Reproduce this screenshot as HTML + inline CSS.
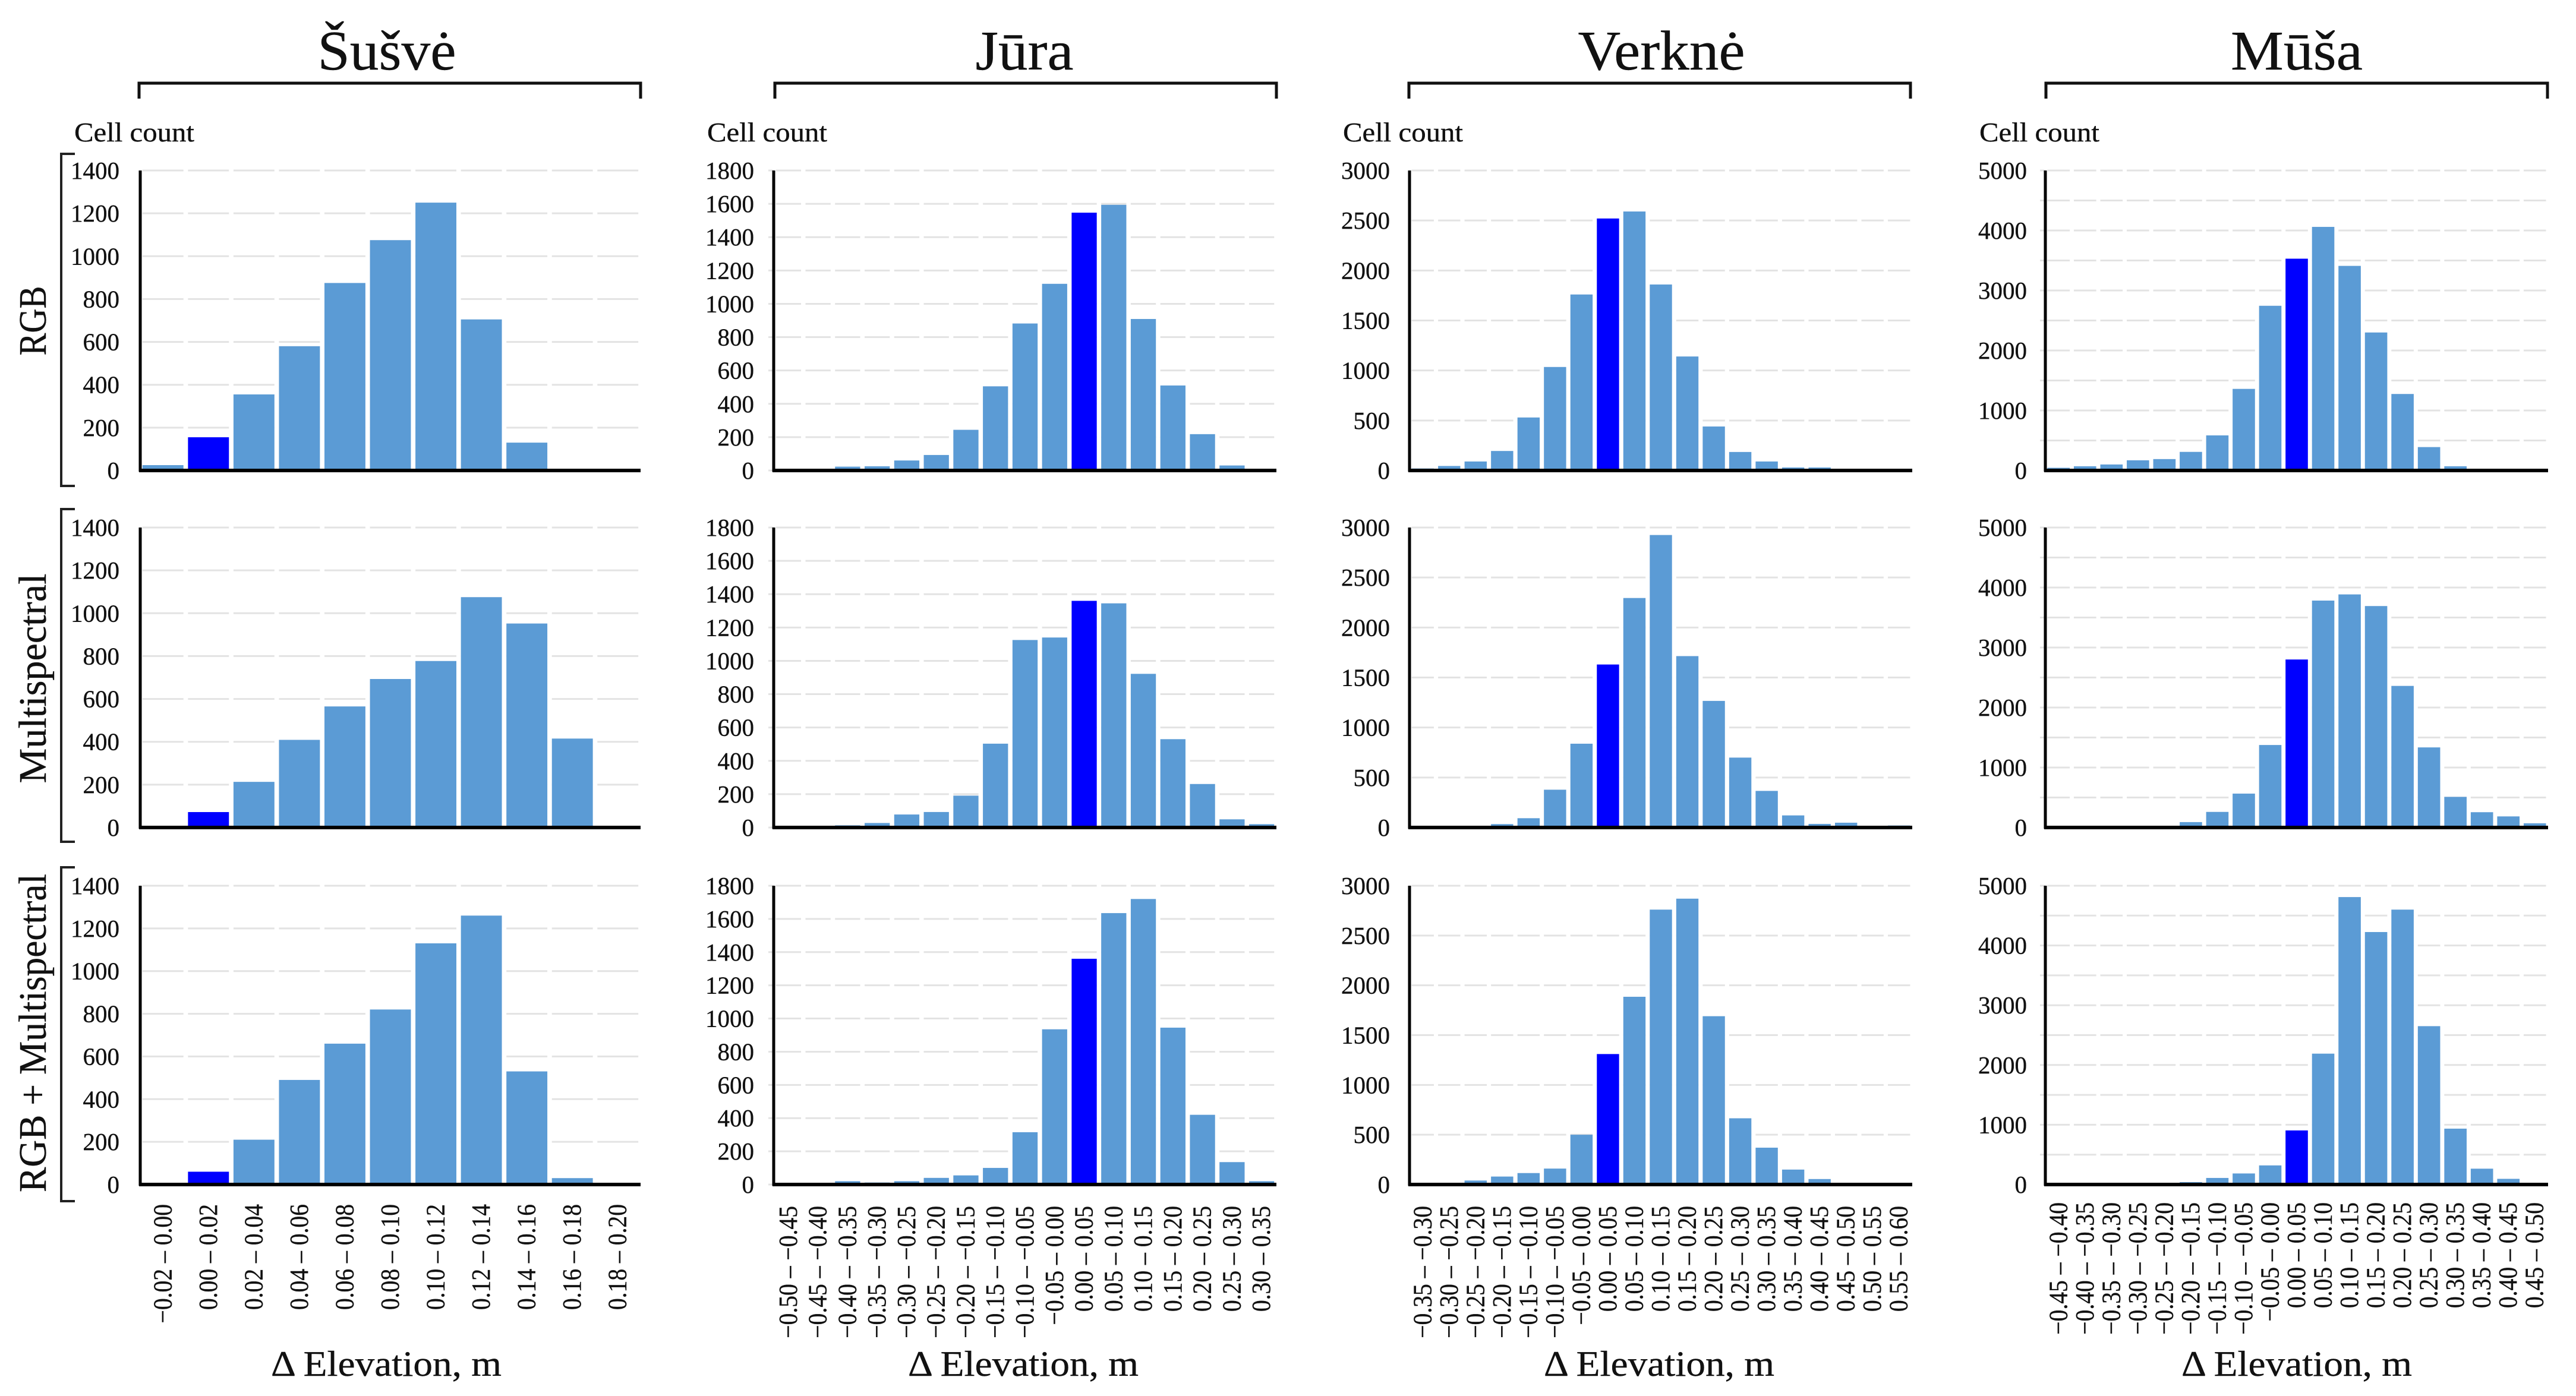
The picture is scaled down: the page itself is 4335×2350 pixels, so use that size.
<!DOCTYPE html>
<html lang="lt">
<head>
<meta charset="utf-8">
<title>Elevation difference histograms</title>
<style>
html,body{margin:0;padding:0;background:#fff;width:4335px;height:2350px;overflow:hidden}
svg{display:block}
text{font-family:"Liberation Serif","DejaVu Serif",serif;fill:#111;stroke:#111;stroke-width:0.4}
</style>
</head>
<body>
<svg id="chart" xmlns="http://www.w3.org/2000/svg" width="4335" height="2350" viewBox="0 0 4335 2350">
  <rect x="0" y="0" width="4335" height="2350" fill="#ffffff"/>

  <text x="651" y="117" font-size="94" text-anchor="middle" textLength="233" lengthAdjust="spacingAndGlyphs">Šušvė</text>
  <text x="1724" y="117" font-size="94" text-anchor="middle" textLength="165" lengthAdjust="spacingAndGlyphs">Jūra</text>
  <text x="2796" y="117" font-size="94" text-anchor="middle" textLength="281" lengthAdjust="spacingAndGlyphs">Verknė</text>
  <text x="3865" y="117" font-size="94" text-anchor="middle" textLength="222" lengthAdjust="spacingAndGlyphs">Mūša</text>

  <path d="M234 166V140H1078V166" fill="none" stroke="#111" stroke-width="5"/>
  <path d="M1304 166V140H2148V166" fill="none" stroke="#111" stroke-width="5"/>
  <path d="M2371 166V140H3215V166" fill="none" stroke="#111" stroke-width="5"/>
  <path d="M3443 166V140H4287V166" fill="none" stroke="#111" stroke-width="5"/>

  <text x="125" y="238" font-size="46" textLength="202" lengthAdjust="spacingAndGlyphs">Cell count</text>
  <text x="1190" y="238" font-size="46" textLength="202" lengthAdjust="spacingAndGlyphs">Cell count</text>
  <text x="2260" y="238" font-size="46" textLength="202" lengthAdjust="spacingAndGlyphs">Cell count</text>
  <text x="3331" y="238" font-size="46" textLength="202" lengthAdjust="spacingAndGlyphs">Cell count</text>

  <text transform="translate(77 540) rotate(-90)" font-size="66" text-anchor="middle" textLength="117" lengthAdjust="spacingAndGlyphs">RGB</text>
  <text transform="translate(77 1142) rotate(-90)" font-size="66" text-anchor="middle" textLength="353" lengthAdjust="spacingAndGlyphs">Multispectral</text>
  <text transform="translate(77 1739) rotate(-90)" font-size="66" text-anchor="middle" textLength="536" lengthAdjust="spacingAndGlyphs">RGB + Multispectral</text>

  <path d="M126 259H103V818H126" fill="none" stroke="#222" stroke-width="4"/>
  <path d="M126 857H103V1417H126" fill="none" stroke="#222" stroke-width="4"/>
  <path d="M126 1460H103V2022H126" fill="none" stroke="#222" stroke-width="4"/>

  <text x="650" y="2316" font-size="60" text-anchor="middle" textLength="388" lengthAdjust="spacingAndGlyphs">Δ Elevation, m</text>
  <text x="1722" y="2316" font-size="60" text-anchor="middle" textLength="388" lengthAdjust="spacingAndGlyphs">Δ Elevation, m</text>
  <text x="2792" y="2316" font-size="60" text-anchor="middle" textLength="388" lengthAdjust="spacingAndGlyphs">Δ Elevation, m</text>
  <text x="3865" y="2316" font-size="60" text-anchor="middle" textLength="388" lengthAdjust="spacingAndGlyphs">Δ Elevation, m</text>

  <g id="panels"></g>
</svg>

<script>
// Bin categories
const categoriesSusve = ["−0.02 – 0.00","0.00 – 0.02","0.02 – 0.04","0.04 – 0.06","0.06 – 0.08","0.08 – 0.10","0.10 – 0.12","0.12 – 0.14","0.14 – 0.16","0.16 – 0.18","0.18 – 0.20"];
const categoriesJura = ["−0.50 – −0.45","−0.45 – −0.40","−0.40 – −0.35","−0.35 – −0.30","−0.30 – −0.25","−0.25 – −0.20","−0.20 – −0.15","−0.15 – −0.10","−0.10 – −0.05","−0.05 – 0.00","0.00 – 0.05","0.05 – 0.10","0.10 – 0.15","0.15 – 0.20","0.20 – 0.25","0.25 – 0.30","0.30 – 0.35"];
const categoriesVerkne = ["−0.35 – −0.30","−0.30 – −0.25","−0.25 – −0.20","−0.20 – −0.15","−0.15 – −0.10","−0.10 – −0.05","−0.05 – 0.00","0.00 – 0.05","0.05 – 0.10","0.10 – 0.15","0.15 – 0.20","0.20 – 0.25","0.25 – 0.30","0.30 – 0.35","0.35 – 0.40","0.40 – 0.45","0.45 – 0.50","0.50 – 0.55","0.55 – 0.60"];
const categoriesMusa = ["−0.45 – −0.40","−0.40 – −0.35","−0.35 – −0.30","−0.30 – −0.25","−0.25 – −0.20","−0.20 – −0.15","−0.15 – −0.10","−0.10 – −0.05","−0.05 – 0.00","0.00 – 0.05","0.05 – 0.10","0.10 – 0.15","0.15 – 0.20","0.20 – 0.25","0.25 – 0.30","0.30 – 0.35","0.35 – 0.40","0.40 – 0.45","0.45 – 0.50"];

// Y-axis tick labels and gridline values
const ticksSusve = [0,200,400,600,800,1000,1200,1400];
const ticksJura = [0,200,400,600,800,1000,1200,1400,1600,1800];
const ticksVerkne = [0,500,1000,1500,2000,2500,3000];
const ticksMusa = [0,1000,2000,3000,4000,5000];
const gridMusa = [500,1000,1500,2000,2500,3000,3500,4000,4500,5000];

// Series values (cell counts)
const susveRgb = [25,155,355,580,875,1075,1250,705,130,0,0];
const susveMultispectral = [0,72,213,409,565,693,777,1075,952,415,0];
const susveCombined = [0,60,210,490,660,820,1130,1260,530,30,0];

const juraRgb = [0,0,23,25,60,93,244,505,882,1120,1547,1594,909,510,218,30,0];
const juraMultispectral = [0,0,13,27,78,93,191,503,1125,1140,1360,1345,922,530,261,49,20];
const juraCombined = [0,0,20,12,20,40,55,100,315,935,1360,1635,1720,945,420,135,20];

const verkneRgb = [20,45,90,195,530,1035,1760,2520,2590,1860,1140,440,185,90,30,30,15,0,0];
const verkneMultispectral = [0,0,0,34,93,378,838,1630,2295,2925,1714,1266,699,366,121,36,48,0,20];
const verkneCombined = [0,0,40,80,115,160,500,1310,1885,2760,2870,1690,665,370,150,55,0,0,0];

const musaRgb = [45,70,100,170,190,310,585,1360,2745,3530,4060,3410,2300,1275,390,70,0,0,0];
const musaMultispectral = [0,0,0,0,0,90,260,565,1375,2800,3782,3885,3691,2360,1335,510,255,185,70];
const musaCombined = [0,0,0,0,15,40,110,185,320,905,2190,4810,4225,4600,2650,935,265,95,0];

const rowNames = ["rgb","multispectral","combined"];
const columns = [
  {name:"susve",  cats:categoriesSusve,  ticks:ticksSusve,  grid:ticksSusve,  max:1400, highlight:1,  series:[susveRgb,susveMultispectral,susveCombined]},
  {name:"jura",   cats:categoriesJura,   ticks:ticksJura,   grid:ticksJura,   max:1800, highlight:10, series:[juraRgb,juraMultispectral,juraCombined]},
  {name:"verkne", cats:categoriesVerkne, ticks:ticksVerkne, grid:ticksVerkne, max:3000, highlight:7,  series:[verkneRgb,verkneMultispectral,verkneCombined]},
  {name:"musa",   cats:categoriesMusa,   ticks:ticksMusa,   grid:gridMusa,    max:5000, highlight:9,  series:[musaRgb,musaMultispectral,musaCombined]}
];

// Layout
const columnBoxes = [
  {x0:236,  x1:1078, labelRight:201,  barFrac:0.90, stub:0, catTop:2027},
  {x0:1302, x1:2148, labelRight:1269, barFrac:0.85, stub:9, catTop:2030},
  {x0:2372, x1:3218, labelRight:2339, barFrac:0.84, stub:0, catTop:2030},
  {x0:3442, x1:4288, labelRight:3411, barFrac:0.845, stub:9, catTop:2024}
];
const rowBoxes = [{top:287,base:792},{top:888,base:1393},{top:1491,base:1994}];

const SVG_NS = "http://www.w3.org/2000/svg";
const root = document.getElementById("panels");

function make(tag, attrs, parent){
  const el = document.createElementNS(SVG_NS, tag);
  for (const k in attrs) el.setAttribute(k, attrs[k]);
  parent.appendChild(el);
  return el;
}
function xScale(box, n, i){ return box.x0 + (box.x1 - box.x0) * i / n; }
function yScale(row, max, v){ return row.base - (row.base - row.top) * v / max; }

columns.forEach(function(col, c){
  const box = columnBoxes[c];
  const n = col.cats.length;
  const binW = (box.x1 - box.x0) / n;
  const barW = binW * box.barFrac;
  const gap = binW - barW;

  rowBoxes.forEach(function(row, r){
    const g = make("g", {}, root);
    
    

    col.grid.forEach(function(t){
      const y = yScale(row, col.max, t);
      const line = make("line", {x1:box.x0, x2:box.x1, y1:y, y2:y, stroke:"#e3e3e3", "stroke-width":3,
        "stroke-dasharray":barW + " " + gap, "stroke-dashoffset":-gap / 2}, g);
      
      
      if (box.stub > 0) {
        const stub = make("line", {x1:box.x0 - box.stub, x2:box.x0, y1:y, y2:y, stroke:"#e3e3e3", "stroke-width":3}, g);
        
        
      }
    });

    col.series[r].forEach(function(v, i){
      if (v <= 0) return;
      const y = yScale(row, col.max, v);
      const bar = make("rect", {x:xScale(box, n, i) + gap / 2, y:y, width:barW, height:row.base - y,
        fill:(i === col.highlight ? "#0000ff" : "#5b9bd5")}, g);
      
      
    });

    const yAxis = make("line", {x1:box.x0, x2:box.x0, y1:row.top, y2:row.base + 2, stroke:"#000", "stroke-width":5}, g);
    
    
    const xAxis = make("line", {x1:box.x0 - 2, x2:box.x1, y1:row.base, y2:row.base, stroke:"#000", "stroke-width":6}, g);
    
    

    col.ticks.forEach(function(t){
      const label = make("text", {x:box.labelRight, y:yScale(row, col.max, t) + 14, "font-size":41, "text-anchor":"end"}, g);
      label.textContent = String(t);
      
      
    });

    if (r === 2) {
      col.cats.forEach(function(cat, i){
        const cx = xScale(box, n, i + 0.5) + 14;
        const label = make("text", {transform:"translate(" + cx + " " + box.catTop + ") rotate(-90) scale(0.9 1)", "font-size":44, "text-anchor":"end"}, g);
        label.textContent = cat;
        
        
      });
    }
  });
});
</script>
</body>
</html>
